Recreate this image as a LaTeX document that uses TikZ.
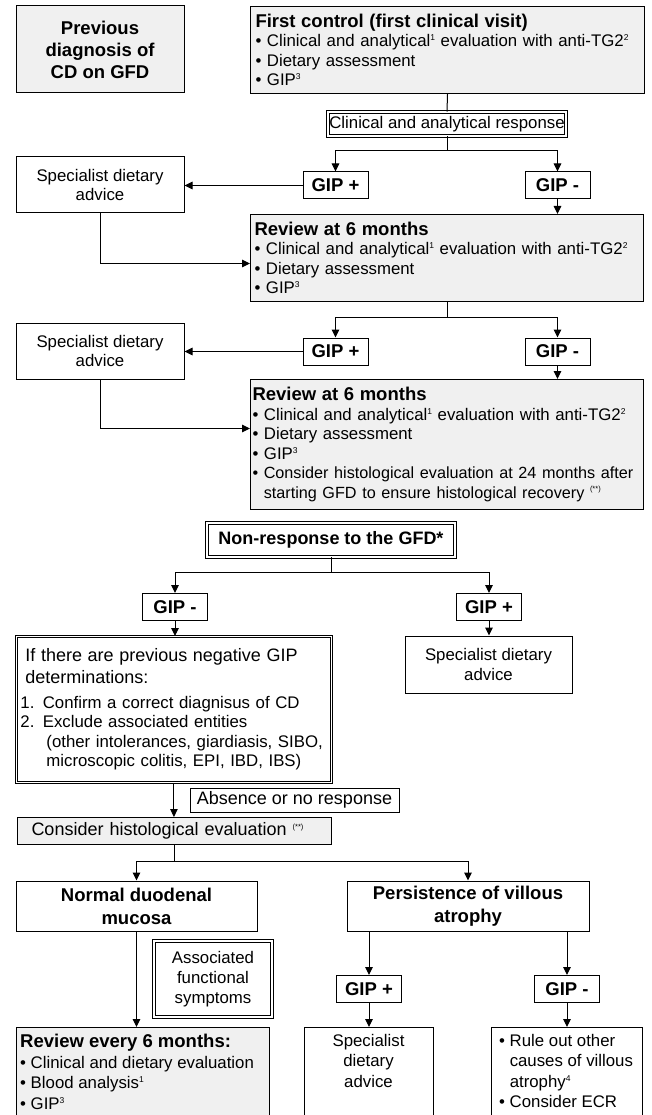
\documentclass[tikz,border=0pt]{standalone}
\usepackage{fontspec}
\setmainfont{Liberation Sans}
\usetikzlibrary{arrows.meta}
\definecolor{boxgray}{RGB}{240,240,240}
\newcommand{\myfs}[2]{\fontsize{#1}{#2}\selectfont}
\newcommand{\supx}[1]{\raisebox{6pt}{\myfs{8.5}{8.5}#1}}
\newcommand{\supstar}{\raisebox{6.5pt}{\myfs{7.5}{7.5}(**)}}
\begin{document}
\begin{tikzpicture}[x=1pt,y=-1pt,
  every node/.style={font=\myfs{16.8}{19.5}},
  bx/.style={draw, line width=1pt, inner sep=0pt},
  gbx/.style={bx, fill=boxgray},
  dbx/.style={draw, line width=0.85pt, double, double distance=1.6pt, inner sep=0pt},
  gip/.style={bx, minimum width=65pt, minimum height=27pt, font=\bfseries\myfs{18.5}{20}},
  ln/.style={line width=1pt},
  arr/.style={line width=1pt, -{Triangle[length=8pt,width=7.5pt]}}]
\clip (0,0) rectangle (651,1115);
\fill[white] (0,0) rectangle (651,1115);

% ---- top part
\node[gbx, minimum width=168pt, minimum height=87pt, align=center, font=\bfseries\myfs{18.5}{22}] (prev) at (100,49.5) {Previous\\diagnosis of\\CD on GFD};
\node[gbx, anchor=north west, minimum width=394pt, minimum height=87pt, text width=384pt, inner xsep=5pt, align=left] (fc) at (250,6) {{\bfseries\myfs{18.5}{20}First control (first clinical visit)}\\ • Clinical and analytical\supx{1} evaluation with anti-TG2\supx{2}\\ • Dietary assessment\\ • GIP\supx{3}};
\node[dbx, minimum width=238pt, minimum height=24pt] (resp) at (447,124) {Clinical and analytical response};

\node[gip] (gp1) at (335.5,185.5) {GIP +};
\node[gip] (gm1) at (557.5,185.5) {GIP -};
\node[bx, minimum width=168pt, minimum height=56pt, align=center] (sp1) at (100,185) {Specialist dietary\\advice};
\node[gbx, anchor=north west, minimum width=393pt, minimum height=87pt, text width=385pt, inner xsep=4pt, align=left] (rv1) at (250,214) {{\bfseries\myfs{18.5}{20}Review at 6 months}\\ • Clinical and analytical\supx{1} evaluation with anti-TG2\supx{2}\\ • Dietary assessment\\ • GIP\supx{3}};

\node[gip] (gp2) at (335.5,351.5) {GIP +};
\node[gip] (gm2) at (557.5,351.5) {GIP -};
\node[bx, minimum width=168pt, minimum height=56pt, align=center] (sp2) at (100,351) {Specialist dietary\\advice};
\node[gbx, anchor=north west, minimum width=393pt, minimum height=130pt, text width=389pt, inner xsep=2pt, align=left] (rv2) at (250,379) {{\bfseries\myfs{18.5}{20}Review at 6 months}\\ • Clinical and analytical\supx{1} evaluation with anti-TG2\supx{2}\\ • Dietary assessment\\ • GIP\supx{3}\\ \mbox{\myfs{16.2}{19.5}• Consider histological evaluation at 24 months after}\\ \mbox{\myfs{16.2}{19.5}\hphantom{• }starting GFD to ensure histological recovery \supstar}};

% ---- non-response part
\node[dbx, minimum width=248pt, minimum height=34pt, font=\bfseries\myfs{18}{20}] (nr) at (331,540) {Non-response to the GFD*};
\node[gip] (gm3) at (175,607) {GIP -};
\node[gip] (gp3) at (489,607) {GIP +};
\node[bx, minimum width=167pt, minimum height=57pt, align=center] (sp3) at (488.5,664.5) {Specialist dietary\\advice};
\node[dbx, anchor=north west, minimum width=315pt, minimum height=146pt, text width=307pt, inner xsep=4pt, align=left] (big) at (16,636) {{\myfs{18}{21}\hspace*{5pt}If there are previous negative GIP\\[2.5pt] \hspace*{5pt}determinations:}\\[5.5pt] 1. Confirm a correct diagnisus of CD\\ 2. Exclude associated entities\\ \hspace*{26pt}(other intolerances, giardiasis, SIBO,\\ \hspace*{26pt}microscopic colitis, EPI, IBD, IBS)};
\node[bx, minimum width=209pt, minimum height=24pt, font=\myfs{18}{20}] (abs) at (294.5,800) {Absence or no response};
\node[gbx, anchor=north west, minimum width=314pt, minimum height=27pt, text width=286pt, inner xsep=14pt, align=left, font=\myfs{18}{20}] (cons) at (17,817) {Consider histological evaluation \supstar};

\node[bx, minimum width=241pt, minimum height=50pt, align=center, font=\bfseries\myfs{18.5}{23}] (norm) at (136.5,906) {Normal duodenal\\mucosa};
\node[bx, minimum width=242pt, minimum height=50pt, align=center, font=\bfseries\myfs{18.5}{23}] (pers) at (468,906) {Persistence of villous\\atrophy};
\node[dbx, minimum width=118pt, minimum height=76pt, align=center, font=\myfs{16.8}{20}] (assoc) at (213,979) {Associated\\functional\\symptoms};
\node[gip] (gp4) at (369,989) {GIP +};
\node[gip] (gm4) at (567,989) {GIP -};

% ---- bottom boxes (cut by the lower edge)
\node[gbx, anchor=north west, minimum width=253pt, minimum height=110pt] (rv3) at (16,1027) {};
\node[anchor=north west, inner sep=0pt, align=left, font=\myfs{16.8}{20.5}] (rv3t) at (20,1034) {{\bfseries\myfs{18.5}{20}Review every 6 months:}\\ • Clinical and dietary evaluation\\ • Blood analysis\supx{1}\\ • GIP\supx{3}};
\node[bx, anchor=north west, minimum width=129pt, minimum height=110pt] (sp4) at (304,1027) {};
\node[anchor=north, inner sep=0pt, align=center, font=\myfs{16.8}{20.5}] (sp4t) at (368.5,1034) {Specialist\\dietary\\advice};
\node[bx, anchor=north west, minimum width=151pt, minimum height=110pt] (ro) at (491,1027) {};
\node[anchor=north west, inner sep=0pt, align=left, font=\myfs{16.8}{20.5}] (rot) at (499,1034) {• Rule out other\\ \hphantom{• }causes of villous\\ \hphantom{• }atrophy\supx{4}\\ • Consider ECR};

% ---- connectors
\draw[ln] (fc.south) -- (resp.north);
\draw[ln] (resp.south) -- ++(0,14) coordinate (j1);
\draw[arr] (j1) -| (gp1.north);
\draw[arr] (j1) -| (gm1.north);
\draw[arr] (gp1.west) -- (gp1.west -| sp1.east);
\draw[arr] (gm1.south) -- (gm1.south |- rv1.north);
\draw[arr] (sp1.south) |- ([yshift=-5.5pt]rv1.west);

\draw[ln] (rv1.south) -- ++(0,15) coordinate (j2);
\draw[arr] (j2) -| (gp2.north);
\draw[arr] (j2) -| (gm2.north);
\draw[arr] (gp2.west) -- (gp2.west -| sp2.east);
\draw[arr] (gm2.south) -- (gm2.south |- rv2.north);
\draw[arr] (sp2.south) |- ([yshift=16pt]rv2.west);

\draw[ln] (nr.south) -- ++(0,15) coordinate (j3);
\draw[arr] (j3) -| (gm3.north);
\draw[arr] (j3) -| (gp3.north);
\draw[arr] (gm3.south) -- (gm3.south |- big.north);
\draw[arr] (gp3.south) -- (gp3.south |- sp3.north);
\draw[arr] (big.south) -- (big.south |- cons.north);

\draw[ln] (cons.south) -- ++(0,16) coordinate (j4);
\draw[arr] (j4) -| (norm.north);
\draw[arr] (j4) -| (pers.north);
\draw[arr] (norm.south) -- (norm.south |- rv3.north);
\draw[arr] (pers.south -| gp4.north) -- (gp4.north);
\draw[arr] (pers.south -| gm4.north) -- (gm4.north);
\draw[arr] (gp4.south) -- (gp4.south |- sp4.north);
\draw[arr] (gm4.south) -- (gm4.south |- ro.north);
\end{tikzpicture}
\end{document}
